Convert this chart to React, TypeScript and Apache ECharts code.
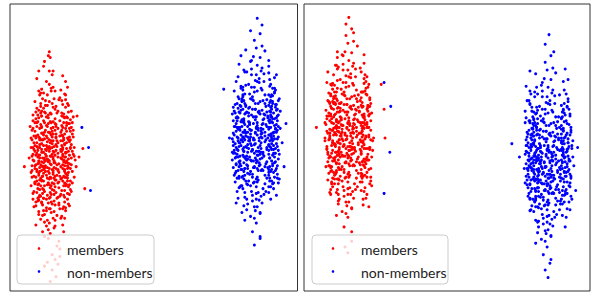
import { useEffect, useRef } from "react";
import * as echarts from "echarts";

// Panel A (left) — estimated point positions [x, y, x, y, ...], axis units 0..300
const membersA = [
45,140,30,95,50,170,41,128,58,205,36,110,42,133,63,150,33,188,47,74,
25,120,44,161,53,101,38,147,20,139,49,186,40,55,55,132,31,160,46,118,
51,92,35,178,61,129,39,205,43,82,28,144,48,116,34,62,56,158,37,125,
68,137,32,99,45,230,41,151,52,44,23,168,46,105,39,172,50,140,27,89,
44,196,36,137,57,113,40,246,48,160,30,121,42,98,54,183,38,68,47,134,
35,152,59,176,43,118,29,107,51,124,41,216,33,131,49,79,45,164,37,143,
62,111,44,38,39,194,53,148,26,176,47,90,42,155,31,129,55,69,40,181,
46,145,36,104,58,123,43,209,34,158,50,113,24,102,48,174,41,123,38,87,
52,162,45,126,32,196,60,96,37,168,44,143,28,155,49,132,42,60,54,118,
35,84,47,190,39,138,57,153,30,112,43,176,51,52,36,166,46,101,41,230,
40,135,48,147,33,115,55,171,43,93,37,199,50,126,29,163,45,76,42,149,
58,140,34,130,47,209,39,100,53,117,22,150,44,167,36,72,49,157,41,111,
31,142,56,88,43,185,38,121,65,164,46,134,35,97,51,200,40,64,47,175,
27,132,42,108,54,146,37,186,45,122,33,171,60,134,41,86,48,193,39,156,
44,127,52,178,30,80,46,151,38,219,57,105,42,141,34,120,49,47,43,163,
36,159,53,130,40,92,47,116,32,207,45,171,58,87,41,136,50,155,28,125,
43,110,38,182,55,141,46,66,35,145,41,198,51,108,44,154,62,175,39,118,
48,128,33,93,42,177,56,160,37,131,45,213,29,147,52,99,40,166,47,142,
34,107,50,188,43,132,39,74,57,119,45,157,31,170,48,103,42,244,36,139,
53,166,40,125,46,83,38,162,59,145,44,106,33,183,49,151,41,97,55,128,
37,148,45,192,30,136,51,114,43,170,26,112,48,161,40,137,54,78,35,123,
47,180,42,119,56,135,38,96,44,226,32,158,50,144,41,71,46,129,36,187,
61,158,43,101,39,150,52,202,34,139,47,109,41,166,57,126,29,94,45,146,
40,184,49,121,35,130,53,157,42,86,38,173,46,136,31,153,51,90,44,113,
37,194,55,150,41,146,47,68,33,116,43,157,58,110,39,129,48,172,36,80,
45,138,52,120,30,181,42,165,50,98,38,141,46,201,35,106,54,163,40,149,
44,91,48,153,27,160,41,117,56,182,39,160,45,124,33,145,51,133,43,212,
36,129,49,97,42,186,58,134,38,152,46,112,31,100,53,146,40,175,47,120,
34,165,44,150,52,86,39,111,45,177,60,121,37,136,48,164,42,103,35,191,
50,127,41,158,46,94,33,126,55,195,43,141,38,84,47,168,40,113,53,139,
44,22,39,30,48,15,41,250,35,235,50,28,15,130,72,140,70,183,76,149,78,107,
24,150,60,118,28,176,57,93,33,135,66,161,22,110,54,199,30,83,62,142,
35,207,58,170,26,128,64,104,31,158,55,225,21,172,59,136,29,97,67,119,
34,120,61,187,27,142,53,76,32,193,63,128,25,88,57,154,30,230,66,182,
23,131,56,110,33,165,60,213,28,115,65,146,36,57,59,167,26,198,54,138,
31,106,62,156,24,184,57,125,34,145,69,130,27,162,55,86,30,123,61,194,
36,176,58,145,22,124,64,171,29,140,53,210,33,92,60,102,26,152,67,150,
32,132,57,181,25,104,63,115,30,189,56,62,35,115,61,138,28,172,58,200,
24,143,62,89,34,201,55,143,27,69,65,176,31,150,59,122,23,158,57,164,
33,172,60,131,26,114,54,186,30,98,64,153,28,222,58,112,35,134,63,167,
22,160,56,100,32,118,61,175,25,136,59,149,34,79,67,141,29,184,55,157,
31,139,58,192,27,93,63,106,33,154,57,131,24,170,60,160,36,240,65,125,
28,127,54,173,30,209,61,146,26,146,58,84,35,163,64,188,23,119,56,120,
32,186,62,133,25,155,57,206,34,102,60,115,29,133,55,148,27,180,66,168,
33,148,59,155,24,96,63,179,31,116,57,140,28,191,61,91,35,127,54,105,
26,167,64,139,30,142,58,219,23,141,56,176,32,75,62,161,29,111,60,128,
34,158,57,98,27,187,55,162,31,125,65,113,25,148,59,182,33,211,61,109,
28,103,63,149,36,128,56,137,24,178,60,196,30,161,58,119,26,131,54,152,
35,97,62,170,29,150,57,76,32,174,64,132,23,126,59,111,31,205,56,185,
27,119,61,124,33,183,55,115,25,162,63,158,30,134,58,144,34,90,66,143,
29,177,57,127,24,137,60,181,32,110,54,168,28,151,62,101,26,113,59,173,
36,26,52,36,42,10,47,33
];

const nonMembersA = [
262,170,248,131,270,205,255,158,243,190,266,112,258,176,251,240,275,148,260,95,
246,166,264,143,256,220,239,155,269,181,253,122,261,198,247,85,272,162,257,137,
250,174,266,251,244,140,259,103,278,189,254,160,241,212,263,127,257,71,249,183,
268,150,236,175,260,146,252,232,271,118,245,196,262,164,255,88,248,153,276,207,
258,128,243,161,265,185,251,110,261,269,239,135,270,171,254,199,247,141,263,92,
256,179,274,133,249,216,260,157,242,119,267,193,253,62,259,168,284,155,246,186,
264,145,252,104,257,226,240,171,269,129,250,159,262,212,245,98,273,177,255,144,
233,152,260,188,248,123,266,166,254,245,244,180,271,139,258,114,251,201,263,160,
247,132,265,219,256,154,238,191,261,81,252,168,275,124,249,149,259,187,243,107,
268,172,254,136,262,230,246,162,257,96,272,203,250,140,264,179,241,152,258,209,
253,119,267,158,245,174,260,131,235,144,256,190,270,109,248,166,263,256,251,125,
259,150,242,198,274,165,255,76,247,137,266,184,252,213,261,143,239,120,257,171,
265,101,250,157,258,236,244,146,270,194,255,130,262,167,248,91,279,178,253,203,
241,163,263,139,256,182,249,115,268,148,237,178,260,222,252,152,266,121,246,194,
257,134,272,187,251,164,261,57,245,128,254,175,269,160,243,210,259,116,264,199,
248,145,255,262,267,133,240,186,262,155,253,100,274,212,250,169,258,142,244,231,
263,174,247,112,259,196,271,151,252,136,265,227,238,160,256,84,261,185,249,177,
254,158,268,118,243,203,260,134,277,169,250,192,257,109,246,151,264,175,252,241,
259,126,245,168,270,143,255,213,241,131,262,161,251,78,266,196,248,138,257,182,
273,158,253,147,261,244,244,117,258,173,267,104,249,186,256,139,239,201,263,165,
251,154,265,180,247,96,260,218,254,129,272,192,243,148,258,163,262,126,250,206,
257,170,236,140,266,156,252,184,245,74,261,138,270,228,248,161,255,114,263,189,
242,177,259,146,253,200,268,135,250,122,264,169,246,215,257,102,274,180,255,153,
261,132,249,191,256,166,240,109,267,174,252,146,263,210,245,158,258,88,270,127,
254,182,262,149,247,229,258,119,244,166,266,205,251,137,276,144,256,190,248,111,
260,160,253,94,269,183,245,140,257,254,264,126,250,174,241,193,261,152,255,208,
248,128,266,162,258,136,252,226,271,115,243,179,259,170,262,99,247,150,256,196,
265,141,251,168,238,126,260,186,254,113,268,200,249,157,257,146,263,233,245,121,
256,165,272,171,247,187,261,82,253,148,242,158,266,130,258,219,250,176,264,107,
259,142,244,199,255,129,268,187,251,161,262,145,248,172,257,117,270,153,253,190,
258,285,263,278,251,272,255,48,261,55,229,160,288,175,286,130,223,211,
238,171,277,135,242,199,273,160,235,123,280,184,244,150,271,221,237,104,276,166,
240,141,274,196,233,178,279,118,245,229,270,147,236,92,278,174,243,161,272,109,
239,187,275,152,232,137,281,201,246,115,271,179,234,163,277,126,241,246,273,190,
237,148,279,168,244,125,270,235,235,195,276,140,242,82,274,157,238,169,280,113,
245,206,272,182,233,156,278,100,240,133,271,214,236,181,275,144,243,120,282,170,
238,97,273,127,234,209,277,192,241,158,270,163,232,145,276,223,244,176,279,151,
239,130,274,204,236,167,272,96,245,185,280,138,237,118,271,171,242,201,276,119,
235,186,278,181,243,142,270,152,238,224,275,107,233,129,273,193,246,165,281,143,
240,155,271,130,237,196,277,210,242,110,279,159,234,172,272,184,244,89,274,142,
236,133,280,199,241,177,270,121,239,151,276,180,232,159,273,115,245,140,278,226,
243,213,272,164,235,114,279,131,238,181,271,197,244,134,275,166,237,143,282,188,
240,168,274,112,233,192,277,149,246,252,270,178,236,125,278,154,242,172,273,205,
239,108,276,173,234,147,271,139,241,189,279,122,237,161,272,216,245,128,275,186,
238,203,280,161,243,156,270,103,235,172,277,195,240,136,273,148,232,185,276,134,
244,146,271,188,236,219,278,166,242,127,274,176,238,157,270,241,246,193,281,117,
235,139,273,154,241,110,276,208,237,182,272,125,243,166,279,190,234,121,275,162,
240,194,277,144,233,165,271,176,245,103,280,172,238,147,274,198,236,132,272,150,
242,179,278,128,239,237,270,169,244,160,276,212,235,154,273,136,241,127,279,183,
237,171,272,199,246,138,275,113,234,188,271,157,243,205,277,170,239,118,274,131,
236,150,280,147,241,214,273,182,238,140,270,124,244,178,276,159,233,144,278,195,
75,171,82,150,84,105
];

// Panel B (right)
const membersB = [
52,175,38,140,60,208,45,162,31,196,55,118,47,181,40,247,63,153,49,101,
35,171,53,148,44,225,27,160,58,187,42,127,50,203,36,91,61,167,46,142,
39,179,56,256,33,145,48,108,67,194,43,165,30,217,52,132,46,77,38,188,
57,155,24,180,49,151,41,237,60,123,34,201,51,169,44,93,37,158,65,212,
47,133,32,166,54,190,40,115,50,274,28,140,59,176,43,204,36,146,52,97,
45,184,63,138,38,221,49,162,31,124,56,198,42,67,48,173,73,160,35,191,
53,150,41,109,46,231,29,176,58,134,39,164,51,217,34,103,62,182,44,149,
22,157,49,193,37,128,55,171,43,250,33,185,60,144,47,119,40,206,52,165,
36,137,54,224,45,159,27,196,50,86,41,173,64,129,38,154,48,192,32,112,
57,177,43,141,51,235,35,167,46,101,61,208,39,145,53,184,30,157,47,214,
42,124,56,163,34,179,49,136,24,149,45,195,59,114,37,171,52,261,40,130,
48,155,31,203,63,170,44,81,36,142,55,189,41,218,50,148,28,125,46,176,
54,106,39,162,47,241,33,151,59,199,44,135,51,172,37,96,68,183,42,208,
30,168,52,144,45,187,38,120,57,153,26,183,49,227,41,157,55,126,35,199,
46,139,61,192,40,169,50,62,34,133,43,180,58,165,32,215,48,121,53,204,
37,150,44,267,56,138,29,191,51,160,42,105,63,217,39,174,47,147,33,236,
52,179,36,117,48,201,60,156,41,141,54,232,27,165,45,89,50,190,38,182,
43,163,57,123,32,208,49,139,66,174,39,197,46,114,35,156,53,180,41,246,
48,131,34,173,59,148,44,218,30,136,51,166,40,83,55,201,37,143,46,187,
62,163,42,152,50,249,33,122,47,178,56,109,38,191,45,144,28,206,52,170,
40,159,54,185,36,101,49,223,43,134,61,197,32,153,47,168,51,131,39,211,
46,175,25,145,55,161,41,189,34,79,50,143,59,233,37,166,44,119,52,194,
31,182,48,151,42,205,57,140,39,127,53,174,35,220,46,107,63,185,44,158,
50,137,38,196,45,171,29,114,56,179,41,151,52,215,34,163,47,93,59,132,
43,187,51,154,36,234,47,124,33,171,55,210,40,142,65,149,45,195,37,116,
49,165,42,99,58,188,34,145,46,259,53,131,39,179,30,198,50,157,44,213,
37,133,55,167,47,141,41,231,60,120,32,184,48,175,51,104,36,155,45,201,
54,146,40,173,27,131,49,191,43,118,57,205,38,162,46,151,52,238,34,126,
45,170,61,176,36,192,50,87,42,153,31,163,55,135,47,224,39,181,53,112,
48,147,33,204,44,134,57,192,40,166,51,150,37,177,46,122,59,158,42,195,
47,286,44,279,52,270,46,40,50,52,43,46,13,171,81,216,84,190,85,160,
30,155,67,192,26,131,63,176,34,208,70,119,28,185,60,143,35,232,66,101,
31,170,64,135,24,148,69,202,36,112,61,184,27,165,68,88,33,196,62,157,
29,126,65,219,22,176,71,140,37,158,62,96,25,199,67,171,32,117,63,238,
28,183,69,150,35,244,60,127,26,139,66,190,33,164,64,108,29,215,70,168,
36,145,62,120,23,189,68,161,31,226,61,135,27,103,65,206,34,179,72,147,
29,168,63,181,25,116,67,137,32,197,60,229,22,160,66,124,35,142,69,193,
30,211,64,159,27,141,62,172,36,94,70,178,28,193,61,114,33,153,66,205,
26,123,68,137,34,177,60,194,29,152,65,162,24,218,63,131,37,187,71,110,
31,190,61,167,28,106,67,149,33,171,69,200,25,135,62,155,35,212,64,121,
27,159,70,128,32,203,60,146,30,118,66,224,23,174,63,183,36,129,68,163,
34,134,62,208,26,186,69,112,29,144,61,170,35,250,65,138,28,101,72,157,
31,201,64,174,24,151,67,188,37,127,60,105,27,162,68,216,33,140,63,182,
30,147,66,119,25,229,61,161,32,136,69,185,28,204,62,132,36,167,65,97,
29,180,70,196,34,124,60,156,26,207,67,143,31,175,63,222,23,130,66,171,
35,117,61,151,27,169,68,127,33,195,64,209,29,112,60,165,37,148,71,186,
26,198,63,104,32,154,66,176,28,129,62,193,34,236,69,148,25,165,65,133,
31,139,67,213,24,183,61,122,36,176,70,158,29,130,64,179,27,197,62,90,
33,164,68,171,30,109,60,202,35,187,66,140,26,158,63,247,32,121,69,150,
28,216,62,136,37,196,65,161,25,143,61,118,34,170,67,192,30,155,64,226,
27,178,70,115,32,138,63,149,29,191,60,173,35,106,66,137,24,167,68,184
];

const nonMembersB = [
259,145,246,108,267,182,253,130,241,166,264,90,256,152,249,215,273,124,258,70,
244,140,262,118,254,197,237,130,267,158,251,98,259,175,245,61,270,137,255,112,
248,150,264,228,242,116,257,79,276,165,252,135,239,188,261,103,255,46,247,160,
266,126,234,152,258,122,250,209,269,94,243,173,260,140,253,63,246,128,274,184,
256,104,241,137,263,162,249,86,259,246,237,111,268,147,252,176,245,117,261,68,
254,156,272,109,247,193,258,134,240,96,265,170,251,38,257,145,283,131,244,163,
262,121,250,80,255,203,238,147,267,106,248,135,260,189,243,74,271,154,253,120,
231,128,258,165,246,99,264,142,252,222,242,157,269,115,256,90,249,178,261,136,
245,108,263,196,254,130,236,168,259,57,250,144,273,100,247,125,257,164,241,83,
266,148,252,112,260,207,244,138,255,72,270,180,248,116,262,156,239,128,256,186,
251,95,265,134,243,151,258,107,233,120,254,167,268,85,246,142,261,233,249,101,
257,126,240,175,272,141,253,52,245,113,264,161,250,190,259,119,237,96,255,148,
263,77,248,133,256,213,242,122,268,171,253,106,260,143,246,67,277,155,251,180,
239,139,261,115,254,159,247,91,266,124,235,155,258,199,250,128,264,97,244,171,
255,110,270,164,249,140,259,33,243,104,252,152,267,136,241,187,257,92,262,176,
246,121,253,239,265,109,238,163,260,131,251,76,272,189,248,146,256,118,242,208,
261,151,245,88,257,173,269,127,250,112,263,204,236,136,254,60,259,162,247,154,
252,134,266,94,241,180,258,110,275,145,248,169,255,85,244,127,262,152,250,218,
257,102,243,145,268,119,253,190,239,107,260,137,249,54,264,173,246,114,255,159,
271,134,251,123,259,221,242,93,256,150,265,80,247,163,254,115,237,178,261,141,
249,130,263,157,245,72,258,195,252,105,270,169,241,124,256,139,260,102,248,183,
255,147,234,116,264,132,250,161,243,50,259,114,268,205,246,137,253,90,261,166,
240,154,257,122,251,177,266,111,248,98,262,145,244,192,255,78,272,157,253,129,
259,108,247,168,254,143,238,85,265,150,250,122,261,187,243,134,256,64,268,103,
252,159,260,125,245,206,256,95,242,142,264,182,249,113,274,120,254,167,246,87,
258,136,251,70,267,160,243,116,255,231,262,102,248,150,239,170,259,128,253,185,
246,104,264,138,256,112,250,203,269,91,241,155,257,147,260,75,245,126,254,173,
263,117,249,145,236,102,258,163,252,89,266,177,247,133,255,122,261,210,243,97,
254,141,270,148,245,164,259,58,251,124,240,134,264,106,256,196,248,152,262,83,
257,118,242,176,253,105,266,164,249,137,260,121,246,149,255,93,268,129,251,167,
257,268,253,258,262,250,256,14,253,22,258,29,226,140,287,150,285,105,218,154,
238,138,274,104,241,162,271,187,235,126,278,151,243,95,270,173,236,199,276,130,
240,117,273,160,233,146,279,85,245,180,269,122,237,209,277,141,242,107,272,168,
239,151,275,124,232,188,281,149,246,73,271,135,234,166,277,201,241,119,273,93,
237,176,279,113,244,136,270,157,235,99,276,192,242,144,274,67,238,129,280,171,
245,108,272,145,233,214,278,127,240,162,271,91,236,137,275,178,243,227,282,140,
238,153,273,196,234,111,277,159,241,131,270,118,232,176,276,102,244,147,279,183,
239,89,274,135,236,141,272,219,245,120,280,166,237,195,271,79,242,158,276,148,
235,122,278,174,243,185,270,131,238,104,275,206,233,152,273,114,246,139,281,96,
240,170,271,150,237,97,277,125,242,203,279,163,234,128,272,143,244,168,274,232,
236,144,280,120,241,127,270,181,239,192,276,86,232,113,273,154,245,175,278,136,
243,99,272,190,235,164,279,109,238,150,271,142,244,213,275,120,237,84,282,157,
240,182,274,129,233,133,277,198,246,116,270,160,236,178,278,93,242,141,273,186,
239,126,276,146,234,199,271,105,241,153,279,136,237,112,272,170,245,189,275,77,
238,160,280,118,243,105,270,147,235,137,277,221,240,169,273,125,232,143,276,175,
244,186,271,100,236,150,278,138,242,94,274,161,238,133,270,194,246,124,281,152,
235,108,273,177,241,141,276,114,237,230,272,148,243,117,279,185,234,161,275,106,
240,134,277,155,233,181,271,128,245,149,280,99,238,206,274,140,236,119,272,167,
242,115,278,190,239,158,270,96,244,171,276,133,235,128,273,210,241,179,279,122,
237,196,272,117,246,127,275,163,234,145,271,182,243,88,277,149,239,164,274,101,
236,131,280,168,241,173,273,139,238,116,270,155,244,137,276,193,233,158,278,110,
84,218,91,193,90,145,84,102
];

const legendLabels = ["members", "non-members"];
const RED = "#ff0000";
const BLUE = "#0000ff";

function toPairs(flat: number[]): number[][] {
  const out: number[][] = [];
  for (let i = 0; i + 1 < flat.length; i += 2) out.push([flat[i], flat[i + 1]]);
  return out;
}

function legendBox(x: number, y: number, w: number, h: number, dotX: number, textX: number) {
  return [
    {
      type: "rect",
      z: 100,
      shape: { x, y, width: w, height: h, r: 4 },
      style: { fill: "rgba(255,255,255,0.8)", stroke: "#cccccc", lineWidth: 1 },
    },
    { type: "circle", z: 101, shape: { cx: dotX, cy: y + 13.5, r: 1.3 }, style: { fill: RED } },
    { type: "circle", z: 101, shape: { cx: dotX, cy: y + 36.5, r: 1.3 }, style: { fill: BLUE } },
    {
      type: "text",
      z: 101,
      x: textX,
      y: y + 14,
      style: { text: legendLabels[0], fill: "#222", font: "14px Lato", verticalAlign: "middle", align: "left" },
    },
    {
      type: "text",
      z: 101,
      x: textX,
      y: y + 37,
      style: { text: legendLabels[1], fill: "#222", font: "14px Lato", verticalAlign: "middle", align: "left" },
    },
  ];
}

export default function App() {
  const ref = useRef<HTMLDivElement>(null);
  useEffect(() => {
    const chart = echarts.init(ref.current!, null, { renderer: "svg" });
    const axis = (i: number) => ({ gridIndex: i, type: "value", min: 0, max: 300, show: false });
    const scatter = (name: string, data: number[], i: number, color: string) => ({
      type: "scatter",
      name,
      xAxisIndex: i,
      yAxisIndex: i,
      data: toPairs(data),
      symbol: "circle",
      symbolSize: 3,
      itemStyle: { color, opacity: 1 },
      silent: true,
    });
    chart.setOption({
      animation: false,
      grid: [
        { left: 10, top: 4, width: 287.5, height: 287, show: true, borderColor: "#333", borderWidth: 1, backgroundColor: "transparent" },
        { left: 304, top: 4, width: 286, height: 287, show: true, borderColor: "#333", borderWidth: 1, backgroundColor: "transparent" },
      ],
      xAxis: [axis(0), axis(1)],
      yAxis: [axis(0), axis(1)],
      series: [
        scatter(legendLabels[0], membersA, 0, RED),
        scatter(legendLabels[1], nonMembersA, 0, BLUE),
        scatter(legendLabels[0], membersB, 1, RED),
        scatter(legendLabels[1], nonMembersB, 1, BLUE),
      ],
      graphic: [...legendBox(17, 235, 137, 49, 39, 67), ...legendBox(312, 235, 136, 49, 333, 361)],
    });
    return () => chart.dispose();
  }, []);
  return <div ref={ref} style={{ position: "absolute", left: 0, top: 0, width: 591, height: 294 }} />;
}
